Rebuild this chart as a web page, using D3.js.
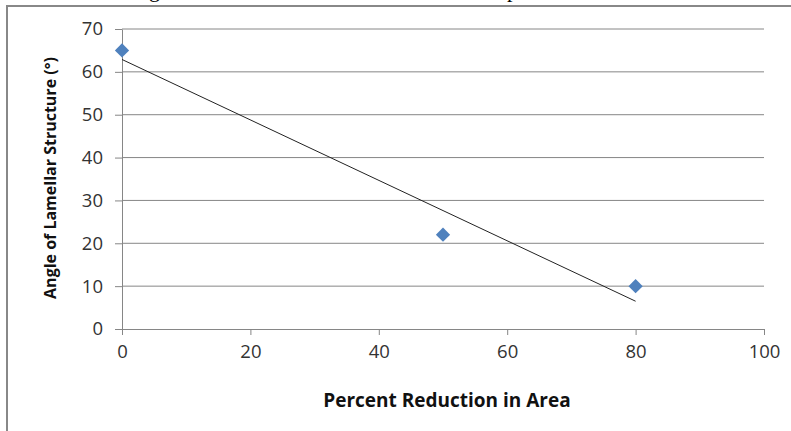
<!DOCTYPE html>
<html>
<head>
<meta charset="utf-8">
<script src="https://cdn.jsdelivr.net/npm/d3@7"></script>
<style>
  body { margin: 0; background: #fff; }
  svg { display: block; }
</style>
</head>
<body>
<div id="vis1"></div>
<script>
const FRAME_WIDTH = 791;
const FRAME_HEIGHT = 431;
const MARGINS = {left: 122, right: 27, top: 29, bottom: 102};

const VIS_WIDTH = FRAME_WIDTH - MARGINS.left - MARGINS.right;
const VIS_HEIGHT = FRAME_HEIGHT - MARGINS.top - MARGINS.bottom;

// data
const reduction = [0, 50, 80];
const angle = [65, 22, 10];
const xTicks = [0, 20, 40, 60, 80, 100];
const yTicks = [0, 10, 20, 30, 40, 50, 60, 70];

const FRAME = d3.select("#vis1")
  .append("svg")
    .attr("width", FRAME_WIDTH)
    .attr("height", FRAME_HEIGHT);

// cut-off caption descenders above the chart
FRAME.append("text").attr("x", 149).attr("y", -3)
  .attr("font-family", "Liberation Serif").attr("font-size", 22).text("g");
FRAME.append("text").attr("x", 507).attr("y", -3)
  .attr("font-family", "Liberation Serif").attr("font-size", 22).text("p");

// chart border
FRAME.append("rect")
  .attr("x", 7).attr("y", 6)
  .attr("width", 800).attr("height", 440)
  .attr("fill", "none")
  .attr("stroke", "#888")
  .attr("stroke-width", 2);

const X_SCALE = d3.scaleLinear().domain([0, 100]).range([0, VIS_WIDTH]);
const Y_SCALE = d3.scaleLinear().domain([0, 70]).range([VIS_HEIGHT, 0]);

const g = FRAME.append("g")
  .attr("transform", "translate(" + MARGINS.left + "," + MARGINS.top + ")");

// gridlines
g.selectAll(".grid")
  .data(yTicks.filter(d => d > 0))
  .enter()
  .append("line")
    .attr("x1", 0).attr("x2", VIS_WIDTH)
    .attr("y1", d => Y_SCALE(d)).attr("y2", d => Y_SCALE(d))
    .attr("stroke", "#868686")
    .attr("stroke-width", 1);

// axes
const xAxis = g.append("g")
  .attr("transform", "translate(0," + VIS_HEIGHT + ")")
  .call(d3.axisBottom(X_SCALE).tickValues(xTicks).tickSize(6).tickSizeOuter(0).tickPadding(10));

const yAxis = g.append("g")
  .call(d3.axisLeft(Y_SCALE).tickValues(yTicks).tickSize(7).tickSizeOuter(0).tickPadding(12));

[xAxis, yAxis].forEach(a => {
  a.selectAll("path, line").attr("stroke", "#868686");
  a.selectAll("text")
    .attr("fill", "#333")
    .attr("font-family", "Open Sans, sans-serif")
    .attr("font-size", 18.5);
});

// trendline (least squares fit)
const mx = d3.mean(reduction), my = d3.mean(angle);
const slope = d3.sum(reduction, (d, i) => (d - mx) * (angle[i] - my)) /
              d3.sum(reduction, d => (d - mx) * (d - mx));
const icpt = my - slope * mx;
const xMin = d3.min(reduction), xMax = d3.max(reduction);

g.append("line")
  .attr("x1", X_SCALE(xMin)).attr("y1", Y_SCALE(icpt + slope * xMin))
  .attr("x2", X_SCALE(xMax)).attr("y2", Y_SCALE(icpt + slope * xMax))
  .attr("stroke", "#222")
  .attr("stroke-width", 1);

// points
g.selectAll(".pt")
  .data(reduction)
  .enter()
  .append("path")
    .attr("d", d3.symbol(d3.symbolDiamond2, 130))
    .attr("transform", (d, i) => "translate(" + X_SCALE(d) + "," + Y_SCALE(angle[i]) + ")")
    .attr("fill", "#4F81BD");

// titles
FRAME.append("text")
  .attr("x", 447).attr("y", 407)
  .attr("text-anchor", "middle")
  .attr("font-family", "Open Sans, sans-serif")
  .attr("font-weight", "bold")
  .attr("font-size", 19)
  .attr("fill", "#111")
  .text("Percent Reduction in Area");

FRAME.append("text")
  .attr("transform", "translate(56,178) rotate(-90)")
  .attr("text-anchor", "middle")
  .attr("font-family", "Open Sans, sans-serif")
  .attr("font-weight", "bold")
  .attr("font-size", 16)
  .attr("fill", "#111")
  .text("Angle of Lamellar Structure (°)");
</script>
</body>
</html>
